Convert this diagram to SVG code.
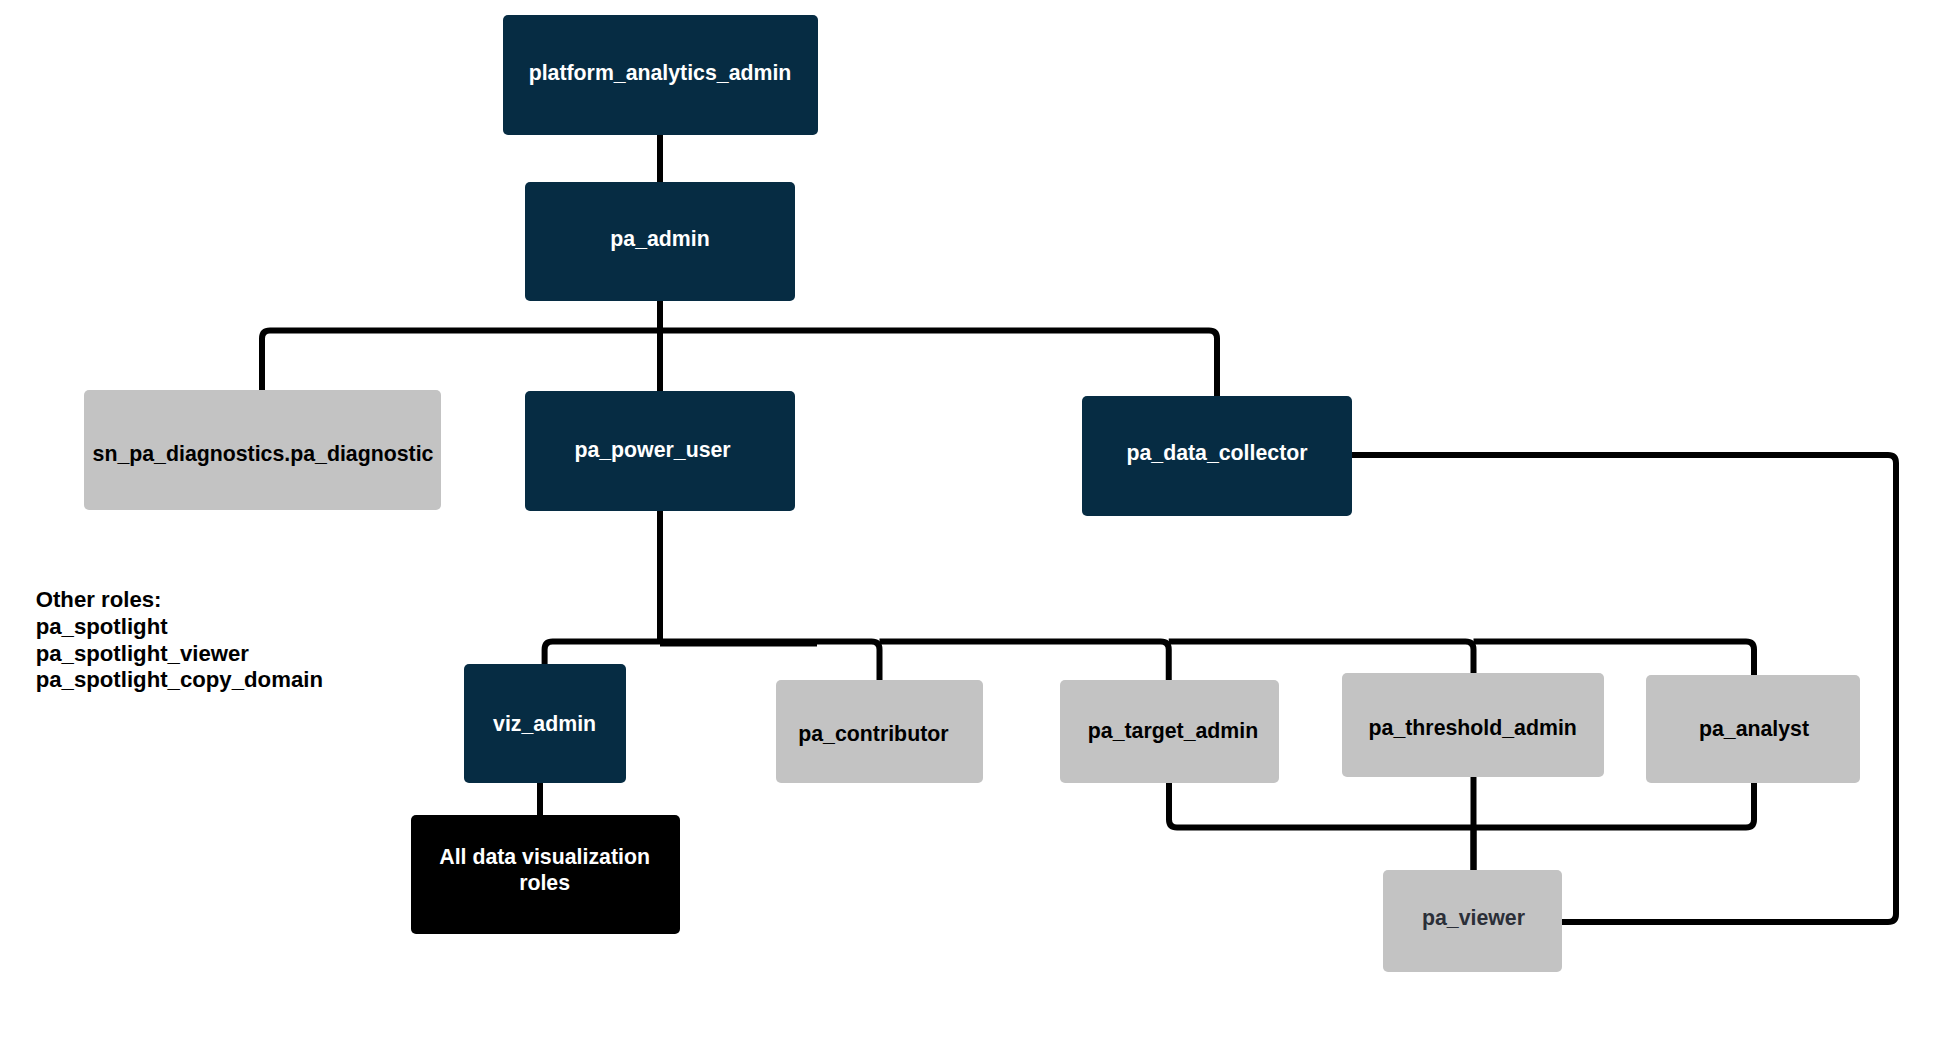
<svg xmlns="http://www.w3.org/2000/svg" width="1941" height="1041" viewBox="0 0 1941 1041">
<style>
.dark{fill:#062c43}
.gray{fill:#c3c3c3}
.blk{fill:#000}
text{font-family:"Liberation Sans",Arial,sans-serif;font-weight:bold;font-size:21.3px;text-anchor:middle}
.w{fill:#fff}
.k{fill:#000}
.v{fill:#2b2f38}
.legend{font-size:22.2px;text-anchor:start;fill:#000}
.conn path{fill:none;stroke:#000;stroke-width:6;stroke-linejoin:round}
</style>
<rect width="1941" height="1041" fill="#fff"/>
<g class="conn" id="connectors">
<path d="M660 135 V182"/>
<path d="M660 300 V330.5 H270 Q262 330.5 262 338.5 V390"/>
<path d="M660 300 V391"/>
<path d="M660 330.5 H1209 Q1217 330.5 1217 338.5 V396"/>
<path d="M660 510 V641.5 H552.6 Q544.6 641.5 544.6 649.5 V664"/>
<path d="M660 641.5 H871.5 Q879.5 641.5 879.5 649.5 V680"/>
<path d="M660 644 H817" style="stroke-width:5"/>
<path d="M879.5 641.5 H1160.75 Q1168.75 641.5 1168.75 649.5 V680"/>
<path d="M1168.75 641.5 H1465.5 Q1473.5 641.5 1473.5 649.5 V673"/>
<path d="M1473.5 641.5 H1746 Q1754 641.5 1754 649.5 V675"/>
<path d="M540 783 V815"/>
<path d="M1169 783 V819.5 Q1169 827.5 1177 827.5 H1473.5 V870"/>
<path d="M1473.5 777 V870"/>
<path d="M1754 783 V819.5 Q1754 827.5 1746 827.5 H1473.5"/>
<path d="M1352 455 H1888 Q1896 455 1896 463 V914 Q1896 922 1888 922 H1562"/>
</g>
<g id="platform_analytics_admin"><rect class="dark" x="503" y="15" width="315" height="120" rx="5"/><text class="w" x="660" y="80">platform_analytics_admin</text></g>
<g id="pa_admin"><rect class="dark" x="525" y="182" width="270" height="119" rx="5"/><text class="w" x="660" y="246">pa_admin</text></g>
<g id="sn_pa_diagnostics"><rect class="gray" x="84" y="390" width="357" height="120" rx="5"/><text class="k" x="263" y="461">sn_pa_diagnostics.pa_diagnostic</text></g>
<g id="pa_power_user"><rect class="dark" x="525" y="391" width="270" height="120" rx="5"/><text class="w" x="652.5" y="457">pa_power_user</text></g>
<g id="pa_data_collector"><rect class="dark" x="1082" y="396" width="270" height="120" rx="5"/><text class="w" x="1217" y="460">pa_data_collector</text></g>
<g id="viz_admin"><rect class="dark" x="464" y="664" width="162" height="119" rx="5"/><text class="w" x="544.6" y="731">viz_admin</text></g>
<g id="all_data_viz"><rect class="blk" x="411" y="815" width="269" height="119" rx="5"/><text class="w" x="544.6" y="864">All data visualization</text><text class="w" x="544.6" y="890">roles</text></g>
<g id="pa_contributor"><rect class="gray" x="776" y="680" width="207" height="103" rx="5"/><text class="k" x="873.4" y="741">pa_contributor</text></g>
<g id="pa_target_admin"><rect class="gray" x="1060" y="680" width="219" height="103" rx="5"/><text class="k" x="1173" y="738">pa_target_admin</text></g>
<g id="pa_threshold_admin"><rect class="gray" x="1342" y="673" width="262" height="104" rx="5"/><text class="k" x="1472.7" y="735">pa_threshold_admin</text></g>
<g id="pa_analyst"><rect class="gray" x="1646" y="675" width="214" height="108" rx="5"/><text class="k" x="1754" y="736">pa_analyst</text></g>
<g id="pa_viewer"><rect class="gray" x="1383" y="870" width="179" height="102" rx="5"/><text class="v" x="1473.5" y="925">pa_viewer</text></g>
<g id="legend">
<text class="legend" x="35.7" y="607">Other roles:</text>
<text class="legend" x="35.7" y="634">pa_spotlight</text>
<text class="legend" x="35.7" y="660.7">pa_spotlight_viewer</text>
<text class="legend" x="35.7" y="687">pa_spotlight_copy_domain</text>
</g>
</svg>
